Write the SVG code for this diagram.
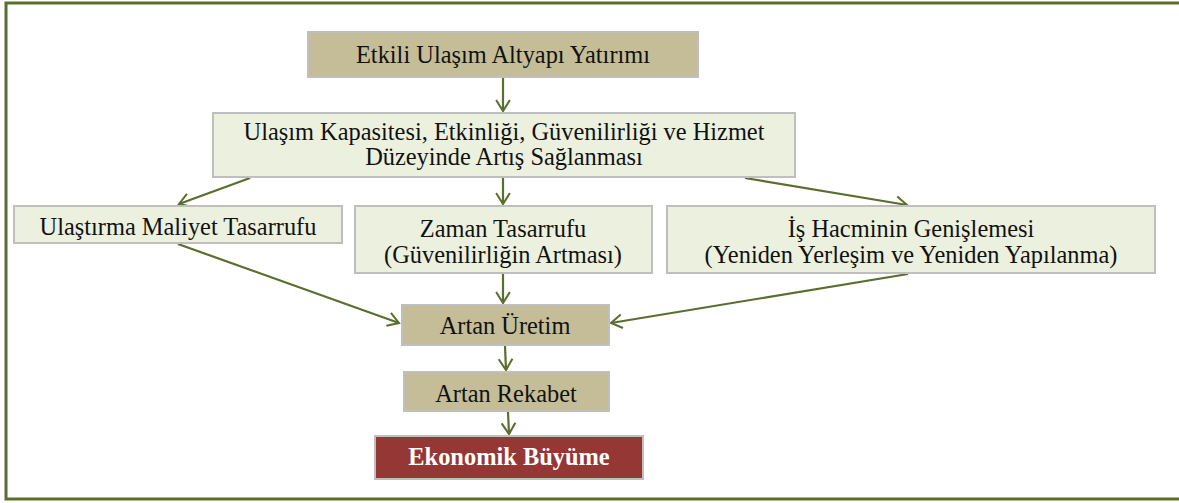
<svg xmlns="http://www.w3.org/2000/svg" width="1179" height="503" viewBox="0 0 1179 503">
<style>
.tan{fill:#c4bd97;stroke:#bfbfbf;stroke-width:2}
.lg{fill:#ebf1de;stroke:#bfbfbf;stroke-width:2}
.red{fill:#953735;stroke:#bfbfbf;stroke-width:2}
.c{stroke:#5a6e2d;stroke-width:2.2;fill:none;marker-end:url(#a)}
</style>
<defs>
<marker id="a" viewBox="0 0 12 12" refX="11" refY="6" markerWidth="11" markerHeight="11" markerUnits="userSpaceOnUse" orient="auto" overflow="visible">
<path d="M-1,-1.5 L11,6 L-1,13.5" fill="none" stroke="#5a6e2d" stroke-width="2.2"/>
</marker>
</defs>
<rect x="6" y="3" width="1180" height="496" fill="#fff" stroke="#5a6e2d" stroke-width="3"/>
<g id="connectors">
<line class="c" x1="503" y1="78" x2="503" y2="111"/>
<line class="c" x1="250" y1="178" x2="179" y2="204"/>
<line class="c" x1="503" y1="178" x2="503" y2="204"/>
<line class="c" x1="745" y1="178" x2="907" y2="205"/>
<line class="c" x1="178" y1="244" x2="399" y2="323"/>
<line class="c" x1="503" y1="274" x2="503" y2="303"/>
<line class="c" x1="908" y1="274" x2="611" y2="323"/>
<line class="c" x1="505" y1="346" x2="506" y2="370"/>
<line class="c" x1="508" y1="412" x2="509" y2="434"/>
</g>
<g font-family="Liberation Serif" font-size="24.4" fill="#111" text-anchor="middle">
<g id="n1"><rect class="tan" x="308" y="32" width="390" height="45"/><text x="503" y="63">Etkili Ulaşım Altyapı Yatırımı</text></g>
<g id="n2"><rect class="lg" x="213" y="113" width="582" height="64"/><text x="504" y="140">Ulaşım Kapasitesi, Etkinliği, Güvenilirliği ve Hizmet</text><text x="504" y="165">Düzeyinde Artış Sağlanması</text></g>
<g id="n3"><rect class="lg" x="14" y="206" width="328" height="37"/><text x="178" y="235">Ulaştırma Maliyet Tasarrufu</text></g>
<g id="n4"><rect class="lg" x="355" y="206" width="297" height="67"/><text x="503" y="237">Zaman Tasarrufu</text><text x="503" y="263">(Güvenilirliğin Artması)</text></g>
<g id="n5"><rect class="lg" x="667" y="206" width="488" height="67"/><text x="911" y="237">İş Hacminin Genişlemesi</text><text x="911" y="263">(Yeniden Yerleşim ve Yeniden Yapılanma)</text></g>
<g id="n6"><rect class="tan" x="402" y="305" width="207" height="40"/><text x="505" y="334">Artan Üretim</text></g>
<g id="n7"><rect class="tan" x="404" y="372" width="205" height="39"/><text x="506" y="402">Artan Rekabet</text></g>
<g id="n8"><rect class="red" x="375" y="436" width="268" height="43"/><text x="509" y="465" fill="#fff" font-weight="bold">Ekonomik Büyüme</text></g>
</g>
</svg>
